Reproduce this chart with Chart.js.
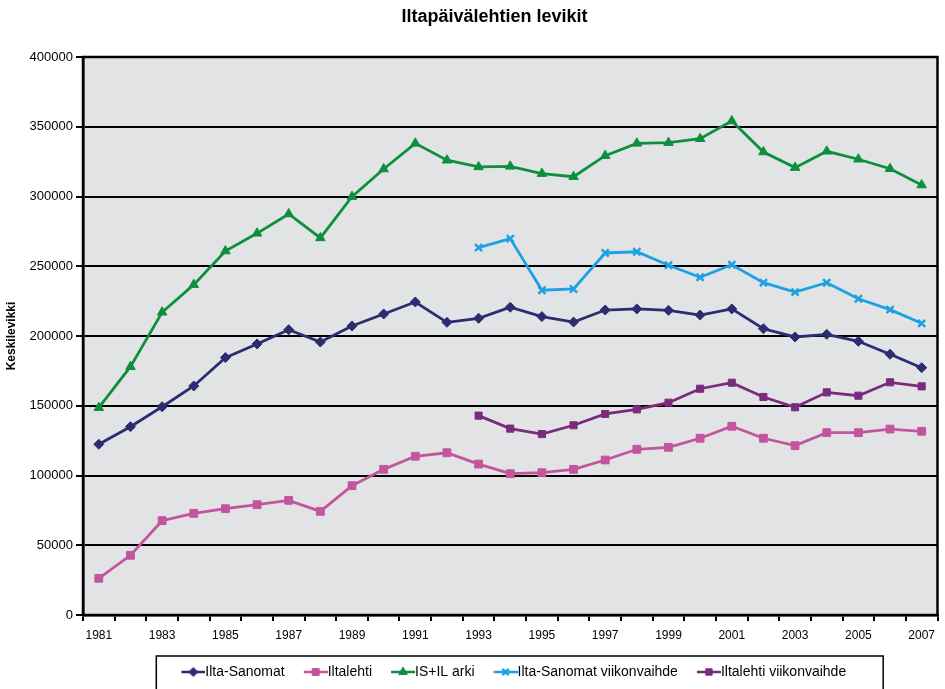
<!DOCTYPE html>
<html>
<head>
<meta charset="utf-8">
<script src="https://cdn.jsdelivr.net/npm/chart.js@4/dist/chart.umd.min.js"></script>
<style>
  html, body { margin: 0; padding: 0; background: #ffffff; }
  #wrap { width: 945px; height: 689px; position: relative; }
</style>
</head>
<body>
<div id="wrap"><canvas id="c" width="945" height="689"></canvas></div>
<script>
// ---- data ----
const years = ['1981','1982','1983','1984','1985','1986','1987','1988','1989','1990','1991','1992','1993','1994','1995','1996','1997','1998','1999','2000','2001','2002','2003','2004','2005','2006','2007'];

const iltaSanomat = [122400,135000,149300,164200,184500,194300,204500,195700,207200,215800,224400,209800,212700,220600,213900,210000,218600,219400,218400,215000,219400,205200,199300,201200,196200,186900,177300];

const iltalehti = [26300,42800,67600,72900,76200,79100,82200,74300,92700,104400,113800,116300,108200,101300,102000,104400,111100,118800,120200,126700,135300,126700,121400,130700,130700,133300,131700];

const isIlArki = [148600,178000,217000,236800,260900,273600,287500,270300,299900,319700,338100,326000,321200,321600,316400,314200,329300,338100,338600,341400,354100,331900,320700,332400,326700,319900,308200];

const iltaSanomatViikonvaihde = [null,null,null,null,null,null,null,null,null,null,null,null,263300,269800,232800,233700,259500,260400,250700,242100,251100,238200,231500,238200,226700,218900,209100];

const iltalehtiViikonvaihde = [null,null,null,null,null,null,null,null,null,null,null,null,142900,133600,129700,136000,144100,147400,152200,162200,166500,156300,148900,159600,157200,166800,163900];

const seriesNames = ['Ilta-Sanomat','Iltalehti','IS+IL arki','Ilta-Sanomat viikonvaihde','Iltalehti viikonvaihde'];
const yTickValues = [0,50000,100000,150000,200000,250000,300000,350000,400000];
const chartTitle = 'Iltapäivälehtien levikit';
const yAxisTitle = 'Keskilevikki';

// ---- styling ----
const FONT = "'Liberation Sans', Arial, sans-serif";
const PLOT_BOTTOM = 615;
const PAD_BOTTOM = 0;
const LEGEND_FONT = 14;
const LEGEND_PAD = 12;
const ICON_W = 24;
const styles = [
  { color: '#2c2c72', marker: 'rectRot', radius: 5 },
  { color: '#c2559e', marker: 'rect', radius: 5.5 },
  { color: '#0e8f3d', marker: 'triangle', radius: 5.5 },
  { color: '#1ca2e2', marker: 'crossRot', radius: 5 },
  { color: '#7b2a7c', marker: 'rect', radius: 5 }
];
const seriesData = [iltaSanomat, iltalehti, isIlArki, iltaSanomatViikonvaihde, iltalehtiViikonvaihde];

// legend icon: line + marker, shifted right so it touches the label text
function legendIcon(st) {
  const shift = LEGEND_FONT / 2;
  const cv = document.createElement('canvas');
  cv.width = ICON_W + 2 * shift; cv.height = 12;
  const g = cv.getContext('2d');
  const x0 = 2 * shift;
  g.strokeStyle = st.color; g.lineWidth = 2.5;
  g.beginPath(); g.moveTo(x0, 6); g.lineTo(x0 + ICON_W, 6); g.stroke();
  g.fillStyle = st.color; g.lineWidth = st.marker === 'crossRot' ? 2.5 : 1;
  Chart.helpers.drawPoint(g, { pointStyle: st.marker, radius: st.radius * 0.9, rotation: 0, borderWidth: g.lineWidth }, x0 + ICON_W / 2, 6);
  return cv;
}

const datasets = seriesNames.map((name, i) => ({
  label: name,
  data: seriesData[i],
  borderColor: styles[i].color,
  backgroundColor: styles[i].color,
  pointBackgroundColor: styles[i].color,
  pointBorderColor: styles[i].color,
  pointStyle: styles[i].marker,
  pointRadius: styles[i].radius,
  pointHoverRadius: styles[i].radius,
  pointBorderWidth: styles[i].marker === 'crossRot' ? 2.5 : 1,
  borderWidth: 2.8,
  tension: 0,
  spanGaps: false
}));

const plotDecor = {
  id: 'plotDecor',
  beforeDraw(chart) {
    const a = chart.chartArea, ctx = chart.ctx;
    ctx.save();
    ctx.fillStyle = '#e2e3e5';
    ctx.fillRect(a.left, a.top, a.right - a.left, a.bottom - a.top);
    ctx.restore();
  },
  afterDatasetsDraw(chart) {
    const a = chart.chartArea, ctx = chart.ctx;
    ctx.save();
    ctx.strokeStyle = '#000';
    ctx.lineWidth = 2.5;
    ctx.strokeRect(a.left, a.top, a.right - a.left, a.bottom - a.top);
    ctx.restore();
  },
  afterDraw(chart) {
    const ctx = chart.ctx;
    // title (drawn slightly right of canvas centre, as in the reference)
    const t = chart.titleBlock;
    if (t) {
      ctx.save();
      ctx.fillStyle = '#000';
      ctx.font = "bold 18px " + FONT;
      ctx.textAlign = 'center';
      ctx.textBaseline = 'middle';
      ctx.fillText(chartTitle, (t.left + t.right) / 2 + 21, 17);
      ctx.restore();
    }
    // legend frame
    const lg = chart.legend;
    if (!lg || !lg.legendHitBoxes || !lg.legendHitBoxes.length) return;
    const hb = lg.legendHitBoxes;
    let l = Infinity, r = -Infinity;
    hb.forEach(b => { l = Math.min(l, b.left); r = Math.max(r, b.left + b.width); });
    ctx.save();
    ctx.strokeStyle = '#000';
    ctx.lineWidth = 1.5;
    const fl = l + LEGEND_FONT / 2 - 25;
    ctx.strokeRect(fl, hb[0].top - 9, (r + 37) - fl, 60);
    ctx.restore();
  }
};

new Chart(document.getElementById('c'), {
  type: 'line',
  data: { labels: years, datasets },
  plugins: [plotDecor],
  options: {
    responsive: false,
    animation: false,
    devicePixelRatio: 1,
    layout: { padding: { left: 0, right: -2, top: 0, bottom: PAD_BOTTOM } },
    plugins: {
      tooltip: { enabled: false },
      title: {
        display: true,
        text: chartTitle,
        color: 'rgba(0,0,0,0)',
        font: { family: FONT, size: 18, weight: 'bold', lineHeight: 1.0 },
        padding: { top: 8, bottom: 31 }
      },
      legend: {
        position: 'bottom',
        fullSize: false,
        labels: {
          color: '#000',
          font: { family: FONT, size: LEGEND_FONT },
          usePointStyle: true,
          pointStyleWidth: ICON_W,
          padding: LEGEND_PAD,
          generateLabels(chart) {
            return chart.data.datasets.map((ds, i) => ({
              text: ds.label,
              pointStyle: legendIcon(styles[i]),
              fillStyle: styles[i].color,
              strokeStyle: styles[i].color,
              lineWidth: 0,
              hidden: false,
              datasetIndex: i,
              fontColor: '#000'
            }));
          }
        }
      }
    },
    scales: {
      x: {
        type: 'category',
        offset: true,
        grid: { display: true, drawOnChartArea: false, drawTicks: true, offset: true, tickLength: 6, color: '#000', lineWidth: 2 },
        border: { display: true, color: '#000', width: 2.5 },
        ticks: {
          autoSkip: false,
          maxRotation: 0,
          minRotation: 0,
          padding: 7,
          color: '#000',
          font: { family: FONT, size: 12 },
          callback(v, idx) { return idx % 2 === 0 ? years[idx] : ''; }
        },
        afterFit(s) {
          // legend height: one row of items plus its padding and Chart.js' fixed 10px
          const legendH = LEGEND_FONT + LEGEND_PAD + 10;
          s.height = Math.max(20, s.chart.height - PAD_BOTTOM - PLOT_BOTTOM - legendH);
        }
      },
      y: {
        min: 0,
        max: 400000,
        afterBuildTicks(s) { s.ticks = yTickValues.map(v => ({ value: v })); },
        grid: { color: '#000', lineWidth: 2, tickLength: 7, drawTicks: true },
        border: { display: true, color: '#000', width: 2.5 },
        ticks: {
          padding: 3,
          color: '#000',
          font: { family: FONT, size: 13 },
          callback(v) { return String(v); }
        },
        title: {
          display: true,
          text: yAxisTitle,
          color: '#000',
          font: { family: FONT, size: 12, weight: 'bold' },
          padding: { top: 4, bottom: 0 }
        },
        afterFit(s) { s.width = 83; }
      }
    }
  }
});
</script>
</body>
</html>
